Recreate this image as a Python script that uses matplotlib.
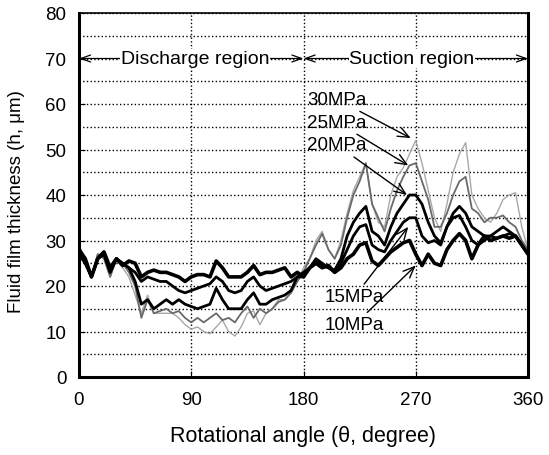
import numpy as np
import matplotlib
matplotlib.use("Agg")
import matplotlib.pyplot as plt
from matplotlib.ticker import MultipleLocator

plt.rcParams['font.family'] = ['Liberation Sans', 'DejaVu Sans']

# rotational angle, every 5 degrees
angle = np.arange(0, 365, 5)

h_10 = [28, 26, 22, 26, 27.5, 24, 26, 24.5, 25.5, 25, 22, 23, 23.5, 23, 23, 22.5, 22, 21, 22, 22.5,
        22.5, 22, 25.5, 24, 22, 22, 22, 23, 24.5, 22.5, 23, 23, 23.5, 24, 22, 23, 22, 24, 25, 24,
        24.5, 23, 24, 26, 27, 29, 29.5, 25.5, 24.5, 26, 27.5, 28.5, 29.5, 30, 27, 24.5, 27, 25, 24.5, 28,
        30, 31.5, 30, 26, 29, 31, 30, 30.5, 31, 30.5, 31, 29, 27]
h_15 = [27, 25, 22, 26, 27, 23, 26, 25, 24, 23, 21, 22, 21.5, 21, 21, 20, 19, 18.5, 19, 19.5,
        20, 20.5, 22, 21, 19, 18.5, 19, 21, 22, 20, 19, 19.5, 20, 20.5, 21, 22, 23, 24, 25.5, 24.5,
        24, 23, 25, 28, 31, 33, 33.5, 29, 28, 27.5, 30, 32, 34, 35, 35, 31, 29.5, 30, 29, 33,
        35, 35.5, 33, 30, 29, 30, 31, 30.5, 31, 31.5, 31, 29, 27]
h_20 = [27, 25, 22, 26, 27, 23, 26, 25, 24, 21, 16, 17, 15, 16, 17, 16, 17, 16, 15.5, 15,
        15.5, 16, 19.5, 17, 15, 15, 15, 17, 18.5, 16, 16, 17, 17.5, 18, 19, 22, 22, 24, 26, 25,
        24, 23.5, 26, 31, 34, 36, 37.5, 32, 31, 29, 33, 36, 38, 40, 40, 38, 34, 31, 29.5, 33,
        36, 37.5, 36, 33, 32, 31, 31, 32, 33, 32, 31, 29, 27]
h_25 = [28, 25, 22, 27, 26, 22, 26, 25, 23, 20, 13, 17, 14, 14.5, 15, 14, 14.5, 13, 12, 13,
        12, 13, 14, 12.5, 13, 12, 14, 15.5, 13, 15, 14, 15, 16.5, 17, 18.5, 21, 23, 26, 29, 31.5,
        28, 26, 29, 35, 40, 43, 47, 38, 35, 32, 37, 41, 44, 46.5, 47, 43, 39, 33, 33, 36,
        40, 43, 44, 37, 36, 34, 35, 35, 35.5, 34, 33, 30, 28]
h_30 = [29, 26, 22, 27, 27, 22, 26, 24, 22, 18, 14, 18, 14, 14, 14, 14, 13, 11.5, 10.5, 11,
        10, 9.5, 11, 12.5, 10, 9, 11, 14, 14.5, 11.5, 14, 15, 17, 17, 18.5, 21, 24, 26, 30, 32,
        28, 26, 30, 36, 41, 44, 47, 38, 34, 33, 40, 44, 46, 49, 52, 47, 41, 35, 32, 38,
        45, 49, 51.5, 40, 37, 35, 34, 36, 39, 40, 40.5, 33, 28]

fig = plt.figure(figsize=(5.49, 4.56), dpi=100)
ax = fig.add_axes([79 / 549, 1 - 378 / 456, 449 / 549, 364 / 456])

ax.plot(angle, h_30, color='#a8a8a8', lw=1.0)
ax.plot(angle, h_25, color='#6a6a6a', lw=1.3)
ax.plot(angle, h_20, color='black', lw=2.0)
ax.plot(angle, h_15, color='black', lw=2.0)
ax.plot(angle, h_10, color='black', lw=2.6)

ax.set_xlim(0, 360)
ax.set_ylim(0, 80)
ax.set_xticks([0, 90, 180, 270, 360])
ax.yaxis.set_major_locator(MultipleLocator(10))
ax.yaxis.set_minor_locator(MultipleLocator(5))
ax.tick_params(which='both', direction='in', labelsize=13.5, length=4)
ax.tick_params(axis='x', pad=10)
ax.tick_params(axis='y', pad=9)
ax.tick_params(which='minor', length=0)
ax.grid(True, which='both', axis='y', linestyle=':', color='black', lw=1.0)
ax.grid(True, which='major', axis='x', linestyle=':', color='black', lw=1.0)
for s in ['left', 'bottom', 'right']:
    ax.spines[s].set_linewidth(2.2)
ax.spines['top'].set_linewidth(1.2)

ax.set_xlabel('Rotational angle (\u03b8, degree)', fontsize=15.5, va='top')
ax.set_ylabel('Fluid film thickness (h, \u03bcm)', fontsize=13.5, va='center')
ax.xaxis.set_label_coords(0.498, -0.132)
ax.yaxis.set_label_coords(-0.14, 0.486)

# region arrows
arr = dict(arrowstyle='<->,head_length=0.7,head_width=0.25', lw=0.9, color='black',
           shrinkA=0, shrinkB=0)
ax.annotate('', xy=(0, 70), xytext=(180, 70), arrowprops=arr)
ax.annotate('', xy=(180, 70), xytext=(360, 70), arrowprops=arr)
bb = dict(facecolor='white', edgecolor='none', pad=0.5)
ax.text(93, 70, 'Discharge region', ha='center', va='center', fontsize=14, bbox=bb)
ax.text(267, 70, 'Suction region', ha='center', va='center', fontsize=14, bbox=bb)

# pressure labels
pa = dict(arrowstyle='->,head_length=0.6,head_width=0.25', lw=1.0, color='black',
          shrinkA=1, shrinkB=0)
ax.annotate('30MPa', xy=(266, 52.5), xytext=(207, 61), fontsize=13.5,
            ha='center', va='center', arrowprops=pa)
ax.annotate('25MPa', xy=(264, 46.5), xytext=(207, 56), fontsize=13.5,
            ha='center', va='center', arrowprops=pa)
ax.annotate('20MPa', xy=(263, 40), xytext=(207, 51), fontsize=13.5,
            ha='center', va='center', arrowprops=pa)
ax.annotate('15MPa', xy=(264, 33), xytext=(221, 17.7), fontsize=13.5,
            ha='center', va='center', arrowprops=pa)
ax.annotate('10MPa', xy=(270, 24.5), xytext=(221, 11.5), fontsize=13.5,
            ha='center', va='center', arrowprops=pa)

fig.savefig('out.png', dpi=100)
